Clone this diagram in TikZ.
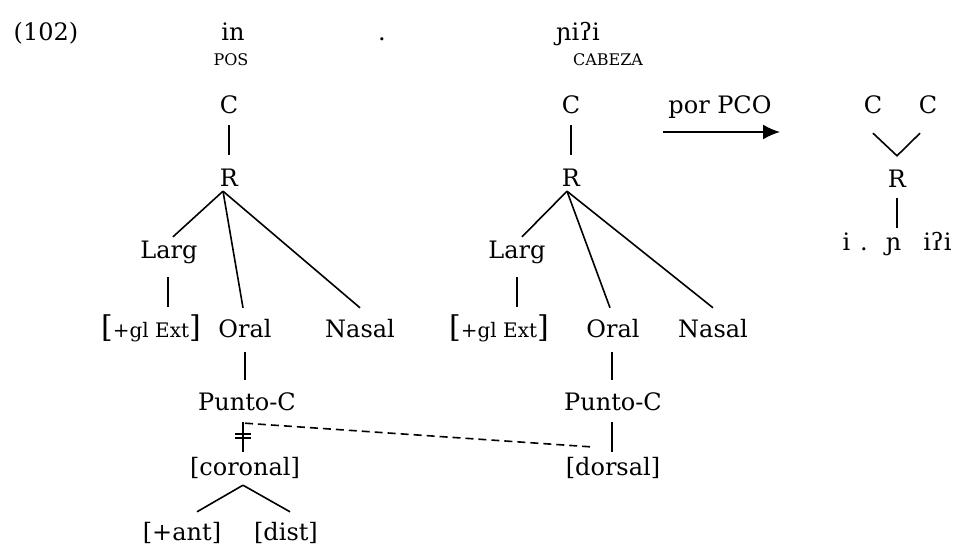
\documentclass[tikz,border=0pt]{standalone}
\usepackage{fontspec}
\setmainfont{DejaVu Serif}
\usetikzlibrary{arrows.meta}

\begin{document}
\begin{tikzpicture}[x=1pt,y=-1pt,
	every node/.style={font=\fontsize{24}{28}\selectfont, inner sep=0pt, anchor=base,
		text height=18pt, text depth=5pt},
	gloss/.style={font=\fontsize{16}{18}\selectfont},
	feat/.style={font=\fontsize{20}{24}\selectfont},
	tie/.style={line width=1.6pt},
	spread/.style={line width=1.6pt, dash pattern=on 8pt off 5pt}]
	\useasboundingbox (0,0) rectangle (959,549);

	% HEADER
	\node (num) at (46,40) {(102)};
	\node (in) at (233,40) {in};
	\node (dot) at (382,40) {.};
	\node (niqi) at (578,40) {ɲiʔi};
	\node[gloss] (pos) at (231,65) {POS};
	\node[gloss] (cab) at (608,65) {CABEZA};

	% LEFT TREE
	\node (C1) at (229,113) {C};
	\node (R1) at (229,186) {R};
	\node (larg1) at (169,258) {Larg};
	\node[feat] (gl1) at (151,337) {\fontsize{30}{30}\selectfont[\fontsize{20}{24}\selectfont+gl Ext\fontsize{30}{30}\selectfont]};
	\node (oral1) at (245,337) {Oral};
	\node (nas1) at (360,337) {Nasal};
	\node (pc1) at (247,410) {Punto-C};
	\node (cor) at (245,475) {[coronal]};
	\node (ant) at (182,540) {[+ant]};
	\node (dist) at (286,540) {[dist]};

	\draw[tie] ([yshift=-7pt]C1.south) -- ([yshift=13pt]R1.north);
	\coordinate (r1) at ([shift={(-6pt,0pt)}]R1.south);
	\draw[tie] (r1) -- ([shift={(4pt,3pt)}]larg1.north);
	\draw[tie] (r1) -- ([shift={(-2pt,11pt)}]oral1.north);
	\draw[tie] (r1) -- ([yshift=11pt]nas1.north);
	\draw[tie] ([shift={(-1pt,-14pt)}]larg1.south) -- ([shift={(-1pt,12pt)}]gl1.north -| larg1.south);
	\draw[tie] ([yshift=-10pt]oral1.south) -- ([shift={(0pt,12pt)}]pc1.north -| oral1.south);
	\draw[tie] ([shift={(-4pt,-7pt)}]pc1.south) -- ([shift={(-2pt,5pt)}]cor.north);
	\coordinate (c1) at ([shift={(-2pt,-5pt)}]cor.south);
	\draw[tie] (c1) -- ([shift={(15pt,10pt)}]ant.north);
	\draw[tie] (c1) -- ([shift={(4pt,10pt)}]dist.north);

	% delinking marks
	\coordinate (cut) at (243,436);
	\draw[tie] ([shift={(-8pt,2pt)}]cut) -- ([shift={(8pt,2pt)}]cut);
	\draw[tie] ([shift={(-8pt,-2pt)}]cut) -- ([shift={(8pt,-2pt)}]cut);

	% RIGHT TREE
	\node (C2) at (571,113) {C};
	\node (R2) at (571,186) {R};
	\node (larg2) at (517,258) {Larg};
	\node[feat] (gl2) at (499,337) {\fontsize{30}{30}\selectfont[\fontsize{20}{24}\selectfont+gl Ext\fontsize{30}{30}\selectfont]};
	\node (oral2) at (613,337) {Oral};
	\node (nas2) at (713,337) {Nasal};
	\node (pc2) at (613,410) {Punto-C};
	\node (dor) at (613,475) {[dorsal]};

	\draw[tie] ([yshift=-7pt]C2.south) -- ([yshift=13pt]R2.north);
	\coordinate (r2) at ([shift={(-4pt,0pt)}]R2.south);
	\draw[tie] (r2) -- ([shift={(5pt,3pt)}]larg2.north);
	\draw[tie] (r2) -- ([shift={(-3pt,11pt)}]oral2.north);
	\draw[tie] (r2) -- ([yshift=11pt]nas2.north);
	\draw[tie] ([shift={(0pt,-14pt)}]larg2.south) -- ([shift={(0pt,12pt)}]gl2.north -| larg2.south);
	\draw[tie] ([shift={(-1pt,-10pt)}]oral2.south) -- ([shift={(-1pt,12pt)}]pc2.north -| oral2.south);
	\draw[tie] ([shift={(-1pt,-7pt)}]pc2.south) -- ([shift={(-1pt,5pt)}]dor.north);

	% spreading of the dorsal place
	\draw[spread] ([shift={(-2pt,-8pt)}]pc1.south) -- ([shift={(-23pt,10pt)}]dor.north);

	% OCP ARROW
	\coordinate (a1) at (663,132);
	\coordinate (a2) at (780,132);
	\draw[line width=1.8pt, -{Latex[length=17pt,width=15pt]}] (a1) -- (a2);
	\node (pco) at (720,113) {por PCO};

	% MERGED ROOT
	\node (C3) at (873,113) {C};
	\node (C4) at (928,113) {C};
	\node (R3) at (897,187) {R};
	\node (seg) at (897,250) {i\hspace{10pt}.\hspace{18pt}ɲ\hspace{22pt}iʔi};
	\draw[tie] ([yshift=-15pt]C3.south) -- ([yshift=13pt]R3.north) -- ([shift={(-8pt,-15pt)}]C4.south);
	\draw[tie] ([yshift=-6pt]R3.south) -- ([yshift=4pt]seg.north);
\end{tikzpicture}
\end{document}
